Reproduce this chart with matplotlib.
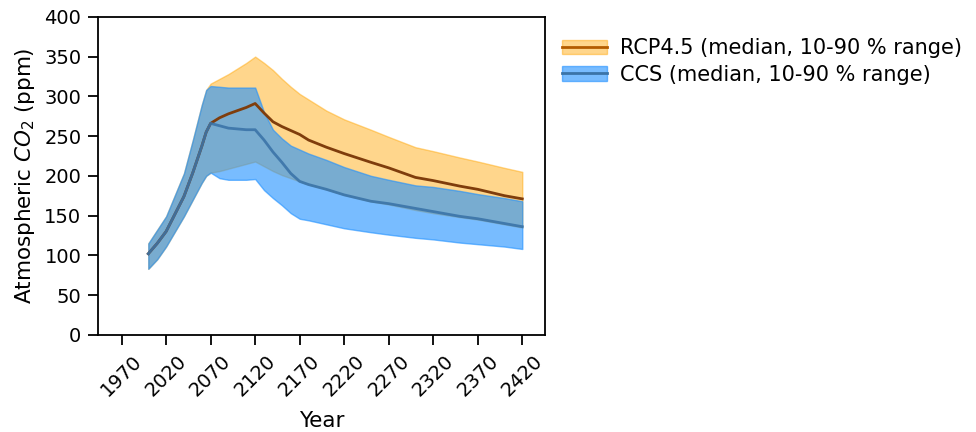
import matplotlib
matplotlib.use("Agg")
import matplotlib.pyplot as plt
from matplotlib.patches import Patch
from matplotlib.lines import Line2D

years = [2000, 2010, 2020, 2030, 2040, 2050, 2060, 2065, 2070, 2080, 2090, 2100,
         2110, 2120, 2130, 2140, 2150, 2160, 2170, 2180, 2200, 2220, 2250, 2270,
         2300, 2320, 2350, 2370, 2400, 2420]

rcp_median = [102, 115, 130, 152, 174, 204, 237, 255, 266, 273, 278, 282,
              286, 291, 279, 268, 262, 257, 252, 245, 236, 228, 217, 210,
              198, 194, 187, 183, 175, 171]
rcp_upper = [115, 132, 149, 176, 203, 245, 289, 308, 316, 322, 328, 335,
             342, 350, 342, 333, 322, 312, 303, 296, 282, 271, 258, 249,
             236, 231, 223, 218, 210, 205]
rcp_lower = [83, 95, 111, 130, 149, 170, 191, 200, 204, 206, 209, 212,
             215, 218, 212, 206, 201, 197, 193, 189, 183, 176, 168, 164,
             157, 153, 148, 145, 139, 135]

ccs_median = [102, 115, 130, 152, 174, 204, 237, 255, 266, 263, 260, 259,
              258, 258, 245, 230, 217, 203, 193, 189, 183, 176, 168, 165,
              159, 155, 149, 146, 140, 136]
ccs_upper = [115, 132, 149, 176, 203, 245, 289, 308, 313, 312, 311, 311,
             311, 311, 280, 258, 247, 238, 233, 228, 220, 211, 200, 195,
             188, 186, 181, 177, 172, 168]
ccs_lower = [83, 95, 111, 130, 149, 170, 191, 200, 204, 197, 195, 195,
             195, 196, 182, 172, 163, 153, 146, 144, 139, 134, 129, 126,
             122, 120, 116, 114, 111, 108]

x_ticks = [1970, 2020, 2070, 2120, 2170, 2220, 2270, 2320, 2370, 2420]
y_ticks = [0, 50, 100, 150, 200, 250, 300, 350, 400]
labels = ["RCP4.5 (median, 10-90 % range)", "CCS (median, 10-90 % range)"]

plt.rcParams['font.family'] = ['DejaVu Sans']
fs_tick = 14.0
fs_label = 15.5
fs_leg = 15.0

fig = plt.figure(figsize=(9.76, 4.32), dpi=100)
ax = fig.add_axes([0.1004, 0.225, 0.458, 0.736])

o_fill = 'orange'
o_line = '#7f3d0c'
b_fill = 'dodgerblue'
b_line = '#3b74a8'

ax.fill_between(years, rcp_lower, rcp_upper, color=o_fill, alpha=0.45, lw=1)
ax.plot(years, rcp_median, color=o_line, lw=2)
ax.fill_between(years, ccs_lower, ccs_upper, color=b_fill, alpha=0.6, lw=1)
ax.plot(years, ccs_median, color=b_line, lw=2, alpha=0.9)

ax.set_xlim(1943.5, 2445.5)
ax.set_ylim(0, 400)
ax.set_xticks(x_ticks)
ax.set_xticklabels([str(t) for t in x_ticks], rotation=45, fontsize=fs_tick)
ax.set_yticks(y_ticks)
ax.set_yticklabels([str(t) for t in y_ticks], fontsize=fs_tick)
ax.tick_params(length=7, width=1.3, pad=5)
for s in ax.spines.values():
    s.set_linewidth(1.3)
ax.set_xlabel("Year", fontsize=fs_label, labelpad=8)
ax.set_ylabel("Atmospheric $CO_2$ (ppm)", fontsize=fs_label, labelpad=5)

h1 = (Patch(facecolor=o_fill, alpha=0.45, edgecolor=o_fill, lw=1),
      Line2D([], [], color='#b35c00', lw=2))
h2 = (Patch(facecolor=b_fill, alpha=0.6, edgecolor=b_fill, lw=1),
      Line2D([], [], color=b_line, lw=2))
ax.legend([h1, h2], labels, loc='upper left', bbox_to_anchor=(1.0, 0.985),
          frameon=False, fontsize=fs_leg, handlelength=2.2,
          handletextpad=0.6, labelspacing=0.3, borderaxespad=0.5,
          borderpad=0.3)

fig.savefig("out.png", dpi=100)
